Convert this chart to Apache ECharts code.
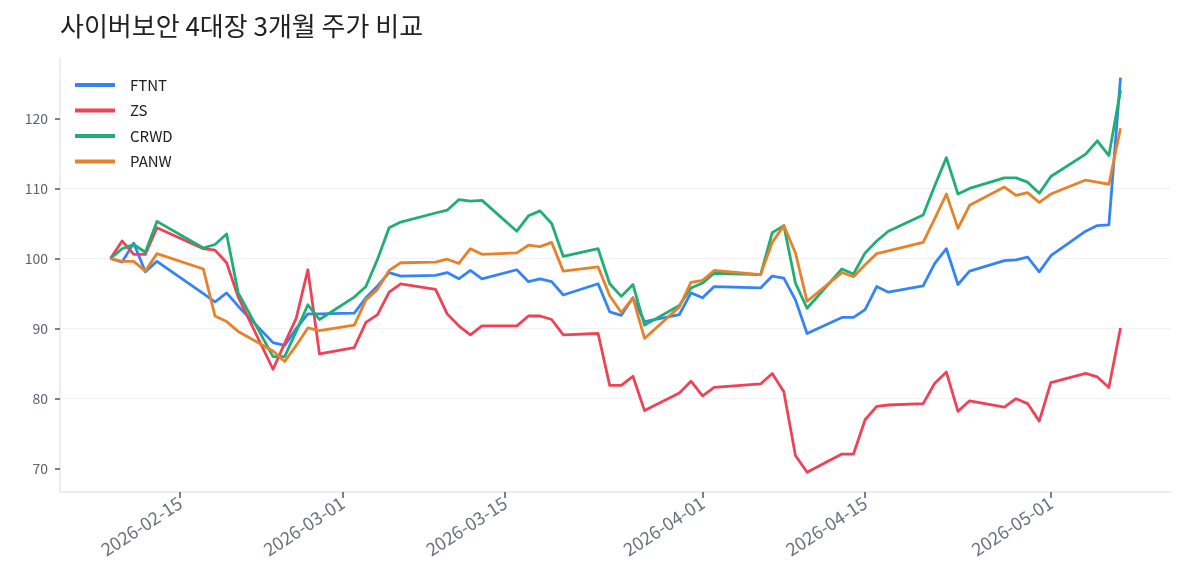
<!DOCTYPE html>
<html>
<head>
<meta charset="utf-8">
<script src="https://cdn.jsdelivr.net/npm/echarts@6/dist/echarts.min.js"></script>
<style>
html,body{margin:0;padding:0;background:#fff;}
#c{width:1185px;height:585px;}
</style>
</head>
<body>
<div id="c"></div>
<script>
const dates = [
'2026-02-09','2026-02-10','2026-02-11','2026-02-12','2026-02-13','2026-02-17','2026-02-18','2026-02-19','2026-02-20',
'2026-02-23','2026-02-24','2026-02-25','2026-02-26','2026-02-27',
'2026-03-02','2026-03-03','2026-03-04','2026-03-05','2026-03-06','2026-03-09','2026-03-10','2026-03-11','2026-03-12','2026-03-13',
'2026-03-16','2026-03-17','2026-03-18','2026-03-19','2026-03-20','2026-03-23','2026-03-24','2026-03-25','2026-03-26','2026-03-27',
'2026-03-30','2026-03-31',
'2026-04-01','2026-04-02','2026-04-06','2026-04-07','2026-04-08','2026-04-09','2026-04-10','2026-04-13','2026-04-14','2026-04-15',
'2026-04-16','2026-04-17','2026-04-20','2026-04-21','2026-04-22','2026-04-23','2026-04-24','2026-04-27','2026-04-28','2026-04-29','2026-04-30',
'2026-05-01','2026-05-04','2026-05-05','2026-05-06','2026-05-07'
];
const ftnt = [100,99.5,102.2,98.1,99.6,95.0,93.8,95.1,93.2,88.0,87.6,90.0,92.1,92.1,
92.2,94.4,96.1,98.0,97.5,97.6,98.0,97.1,98.3,97.1,98.4,96.7,97.1,96.7,94.8,96.4,92.4,91.9,94.4,91.0,92.0,95.1,
94.4,96.0,95.8,97.5,97.2,94.1,89.3,91.6,91.6,92.7,96.0,95.2,96.1,99.3,101.4,96.3,98.2,99.7,99.8,100.2,98.1,
100.4,103.9,104.7,104.8,125.8];
const zs = [100,102.5,100.6,100.6,104.4,101.4,101.2,99.4,94.5,84.2,87.9,91.5,98.4,86.4,
87.3,90.9,92.0,95.2,96.4,95.6,92.1,90.4,89.1,90.4,90.4,91.8,91.8,91.3,89.1,89.3,81.9,81.9,83.2,78.3,80.8,82.5,
80.4,81.6,82.1,83.6,81.0,71.9,69.5,72.1,72.1,77.0,78.9,79.1,79.3,82.2,83.8,78.2,79.7,78.8,80.0,79.3,76.8,
82.3,83.6,83.1,81.6,90.1];
const crwd = [100,101.4,102.0,100.9,105.3,101.5,102.0,103.5,95.1,86.0,86.0,89.6,93.4,91.3,
94.5,96.0,99.9,104.4,105.2,106.5,106.9,108.4,108.2,108.3,103.9,106.1,106.8,105.0,100.3,101.4,96.4,94.6,96.3,90.5,93.3,95.8,
96.5,97.9,97.7,103.7,104.7,96.5,92.9,98.5,97.8,100.8,102.5,103.9,106.2,110.4,114.4,109.2,110.0,111.5,111.5,110.9,109.3,
111.7,114.9,116.8,114.7,124.0];
const panw = [100,99.6,99.6,98.2,100.7,98.5,91.8,91.0,89.6,86.8,85.3,87.6,90.1,89.7,
90.5,94.1,95.6,98.3,99.4,99.5,99.9,99.3,101.4,100.6,100.8,101.9,101.7,102.3,98.2,98.8,94.7,92.3,94.4,88.6,93.1,96.6,
96.9,98.3,97.7,102.3,104.7,100.8,93.9,98.0,97.4,99.1,100.7,101.1,102.3,105.7,109.2,104.3,107.6,110.2,109.0,109.4,108.0,
109.2,111.2,110.9,110.6,118.6];
const seriesNames = ['FTNT','ZS','CRWD','PANW'];
const xTickLabels = ['2026-02-15','2026-03-01','2026-03-15','2026-04-01','2026-04-15','2026-05-01'];
const yTickLabels = [70,80,90,100,110,120];

const colors = ['#3484f5','#ee4357','#1fae74','#e8822a'];
const FONT = '"Noto Sans CJK KR", "Noto Sans", sans-serif';

function parseLocal(s){ const p=s.split('-').map(Number); return new Date(p[0],p[1]-1,p[2]).getTime(); }
const xs = dates.map(parseLocal);
const xMinD = xs[0], xMaxD = xs[xs.length-1];
const xPad = (xMaxD - xMinD) * 0.05;
const allVals = ftnt.concat(zs, crwd, panw);
const yMinD = Math.min.apply(null, allVals), yMaxD = Math.max.apply(null, allVals);
const yPad = (yMaxD - yMinD) * 0.05;
const xTicks = xTickLabels.map(parseLocal);

function pad2(n){ return (n<10?'0':'')+n; }
function fmtDate(v){ const d=new Date(v); return d.getFullYear()+'-'+pad2(d.getMonth()+1)+'-'+pad2(d.getDate()); }

const seriesData = [ftnt, zs, crwd, panw];
const chart = echarts.init(document.getElementById('c'), null, {renderer:'canvas'});
chart.setOption({
  animation: false,
  backgroundColor: '#ffffff',
  textStyle: {fontFamily: FONT},
  title: {
    text: '사이버보안 4대장 3개월 주가 비교',
    left: 60, top: 13, padding: 0,
    textStyle: {fontFamily: FONT, fontSize: 26, fontWeight: 'normal', color: '#222222'}
  },
  legend: {
    orient: 'vertical',
    left: 75, top: 77, padding: 0,
    itemWidth: 40, itemHeight: 4,
    itemGap: 9.5,
    icon: 'rect',
    data: seriesNames,
    textStyle: {fontFamily: FONT, fontSize: 15, color: '#222222', lineHeight: 16, padding: [0,0,0,10]}
  },
  grid: {left: 60, right: 14, top: 58, bottom: 93, containLabel: false},
  xAxis: {
    type: 'value',
    min: xMinD - xPad,
    max: xMaxD + xPad,
    axisLine: {show: true, lineStyle: {color: '#e6e6ec', width: 1.5}},
    axisTick: {show: true, customValues: xTicks, length: 6, lineStyle: {color: '#6b7280', width: 1.8}},
    axisLabel: {
      customValues: xTicks,
      rotate: 33, margin: 9,
      formatter: fmtDate,
      fontFamily: FONT, fontSize: 18, color: '#6a717e'
    },
    splitLine: {show: false}
  },
  yAxis: {
    type: 'value',
    min: yMinD - yPad,
    max: yMaxD + yPad,
    axisLine: {show: true, lineStyle: {color: '#e6e6ec', width: 1.5}},
    axisTick: {show: true, customValues: yTickLabels, length: 5, lineStyle: {color: '#6b7280', width: 1.8}},
    axisLabel: {customValues: yTickLabels, margin: 12, fontFamily: FONT, fontSize: 14, color: '#5b6270'},
    splitLine: {show: true, showMinLine: false, showMaxLine: false, lineStyle: {color: '#f1f1f3', width: 1.2}}
  },
  series: seriesNames.map((name, i) => ({
    name: name,
    type: 'line',
    data: xs.map((x, k) => [x, seriesData[i][k]]),
    showSymbol: false,
    symbol: 'none',
    color: colors[i],
    lineStyle: {width: 2.8, color: colors[i], join: 'round'},
    z: 2 + i
  }))
});
</script>
</body>
</html>
